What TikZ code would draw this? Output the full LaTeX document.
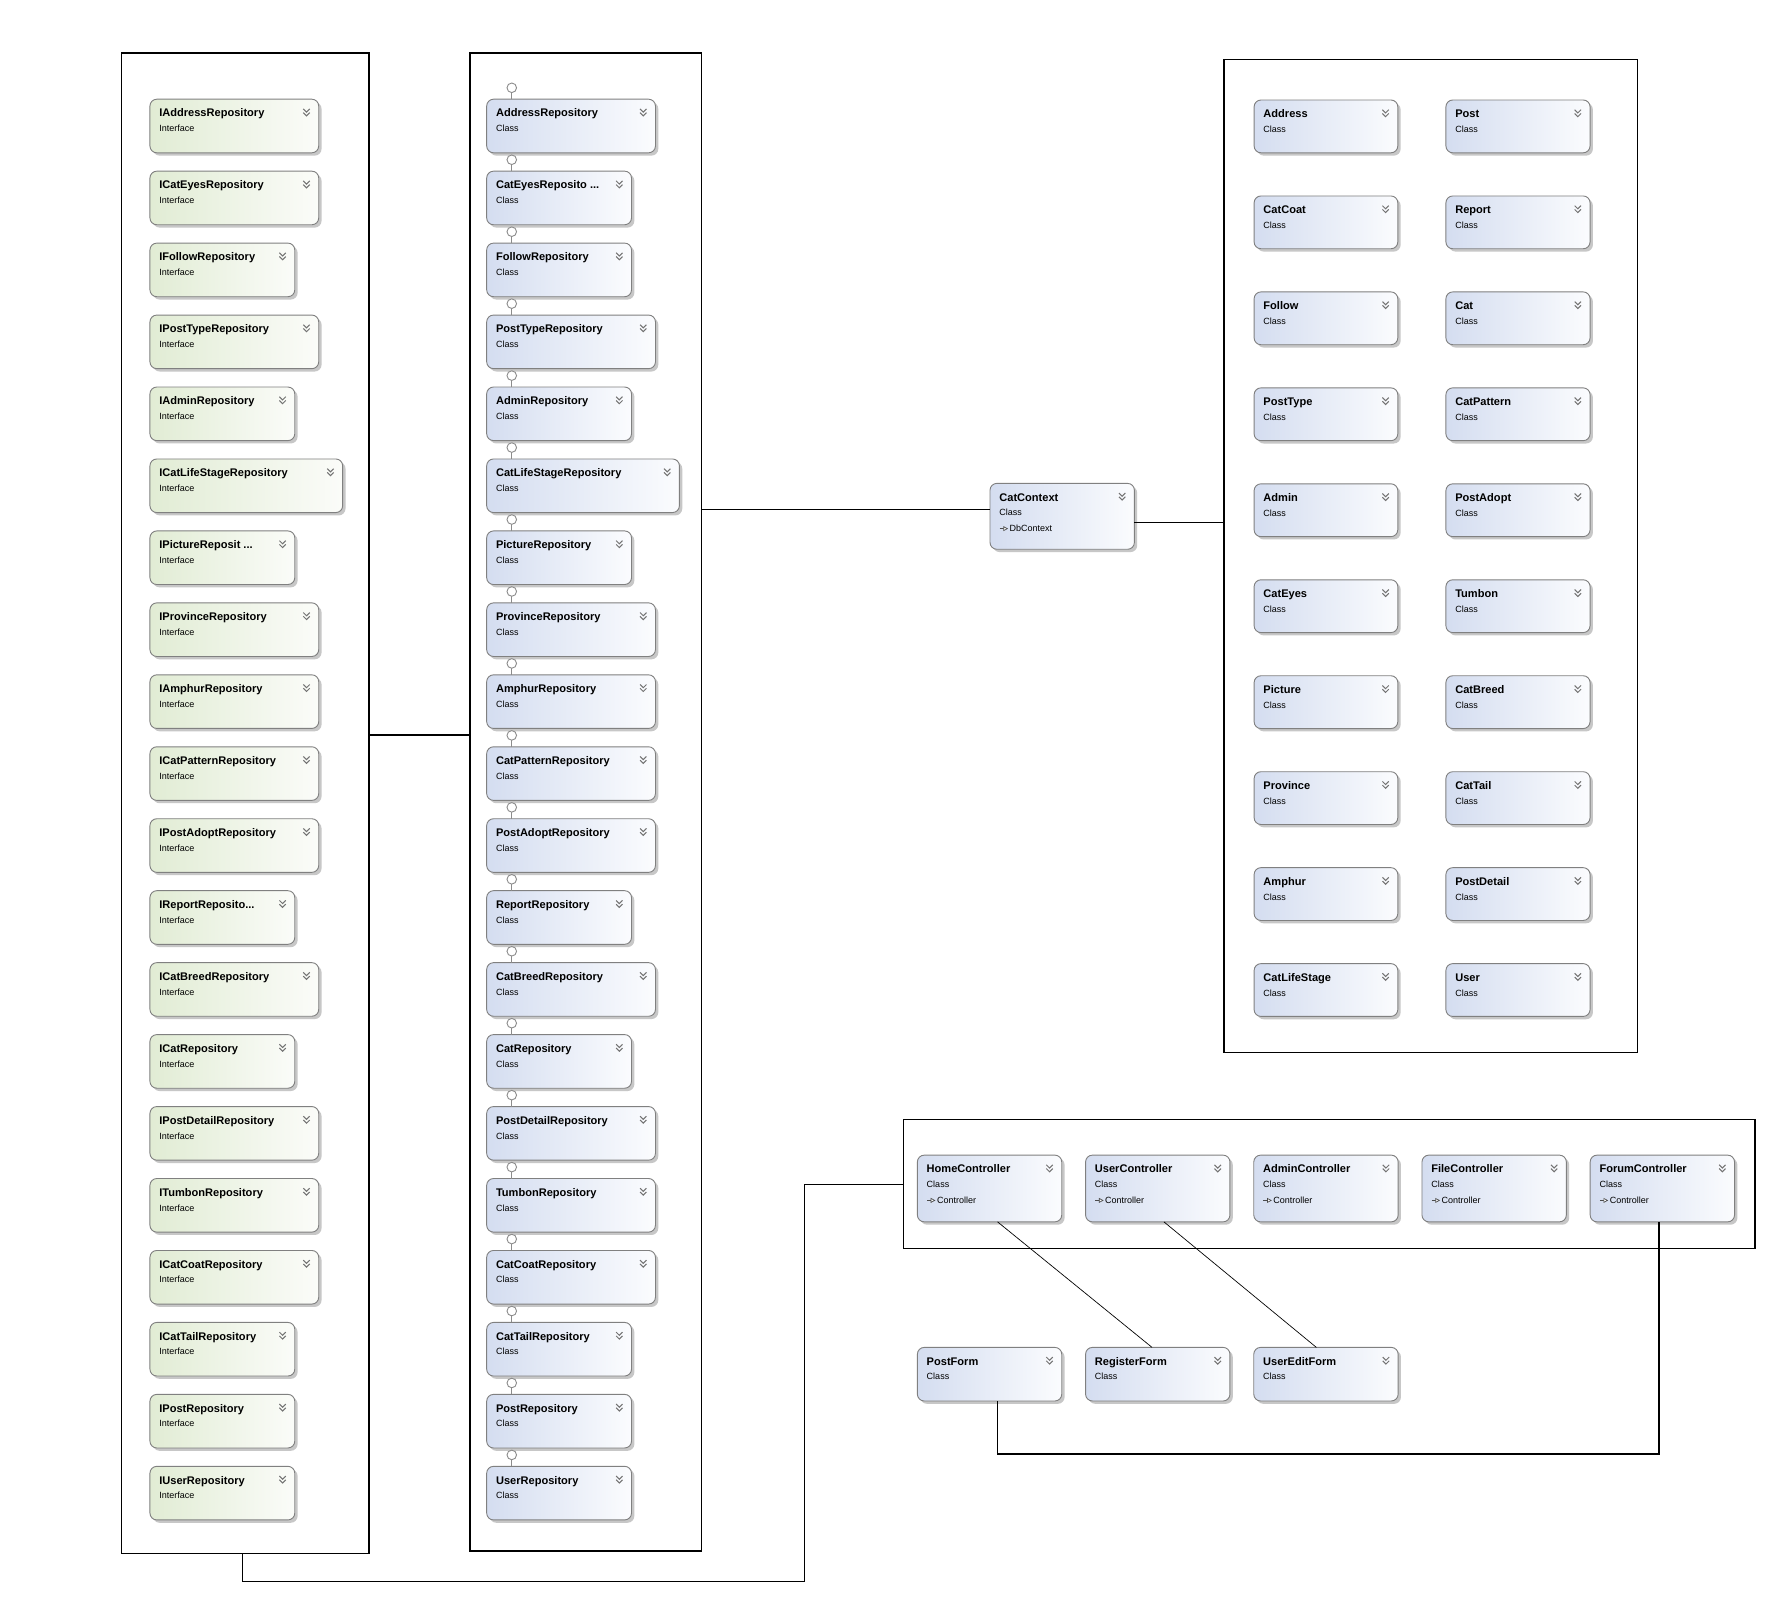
\documentclass[tikz,border=0pt]{standalone}
\usepackage{fontspec}
\setmainfont{Liberation Sans}
\definecolor{clsL}{RGB}{212,221,240}
\definecolor{clsR}{RGB}{251,252,254}
\definecolor{ifcL}{RGB}{225,236,212}
\definecolor{ifcR}{RGB}{251,252,249}
\definecolor{edge}{RGB}{128,128,128}
\tikzset{
  umlframe/.style={draw=edge, line width=0.8pt, rounded corners=6pt, inner sep=0pt, outer sep=0pt},
  cls/.style={left color=clsL, right color=clsR},
  ifc/.style={left color=ifcL, right color=ifcR},
  boxshadow/.style={fill=black!22, rounded corners=6pt},
  titletext/.style={anchor=base west, inner sep=0pt, font=\bfseries\fontsize{9.7}{10}\selectfont},
  kindtext/.style={anchor=base west, inner sep=0pt, font=\fontsize{7.9}{8}\selectfont},
  chev/.style={draw=black!55, line width=0.9pt},
  grp/.style={draw=black, line width=1.2pt, inner sep=0pt, outer sep=0pt},
  conn/.style={draw=black, line width=1.2pt},
  thinconn/.style={draw=black, line width=0.6pt},
  lolli/.style={draw=black!45, line width=0.8pt},
}
% truncation mark for long names
\newcommand\tdots{...}
% type box: name, x, y, width, height, fill style, title, kind
\newcommand\umlbox[8]{%
  \fill[boxshadow] (#2+2.5,#3+2.5) rectangle ++(#4,#5);
  \node[umlframe,#6,minimum width=#4,minimum height=#5,anchor=north west] (#1) at (#2,#3) {};
  \node[titletext] at ([shift={(8,15.5)}]#1.north west) {#7};
  \node[kindtext] at ([shift={(8,28.5)}]#1.north west) {#8};
  \draw[chev] ([shift={(-13.5,8.5)}]#1.north east) -- ++(2.8,2.8) -- ++(2.8,-2.8)
              ([shift={(-13.5,11.8)}]#1.north east) -- ++(2.8,2.8) -- ++(2.8,-2.8);
}
% base type line under the kind
\newcommand\basecls[2]{%
  \draw[black!70, line width=0.6pt] ([shift={(8.5,39.7)}]#1.north west) -- ++(4,0);
  \draw[black!70, line width=0.6pt, fill=white] ([shift={(12,38)}]#1.north west) -- ++(3.2,1.7) -- ++(-3.2,1.7) -- cycle;
  \node[kindtext] at ([shift={(17,42.5)}]#1.north west) {#2};
}
\begin{document}
\begin{tikzpicture}[x=1pt,y=-1pt]
\fill[white] (0,0) rectangle (1568,1420.7);
\useasboundingbox (0,0) rectangle (1568,1420.7);

% group frames
\node[grp, minimum width=217.2, minimum height=1315.7, anchor=north west] (g1) at (106.4,46.5) {};
\node[grp, minimum width=202.8, minimum height=1313.5, anchor=north west] (g2) at (412.2,46.5) {};
\node[grp, minimum width=362.6, minimum height=871, anchor=north west] (g3) at (1073.4,52) {};
\node[grp, minimum width=746.9, minimum height=113, anchor=north west] (g4) at (792.2,982) {};

% repository interfaces
\foreach \nm/\w/\txt [count=\i from 0] in {
  iAddress/148/IAddressRepository, iCatEyes/148/ICatEyesRepository,
  iFollow/127/IFollowRepository, iPostType/148/IPostTypeRepository,
  iAdmin/127/IAdminRepository, iCatLifeStage/169/ICatLifeStageRepository,
  iPicture/127/{IPictureReposit \tdots}, iProvince/148/IProvinceRepository,
  iAmphur/148/IAmphurRepository, iCatPattern/148/ICatPatternRepository,
  iPostAdopt/148/IPostAdoptRepository, iReport/127/{IReportReposito\tdots},
  iCatBreed/148/ICatBreedRepository, iCat/127/ICatRepository,
  iPostDetail/148/IPostDetailRepository, iTumbon/148/ITumbonRepository,
  iCatCoat/148/ICatCoatRepository, iCatTail/127/ICatTailRepository,
  iPost/127/IPostRepository, iUser/127/IUserRepository}
{
  \umlbox{\nm}{131.5}{87+63.1*\i}{\w}{47}{ifc}{\txt}{Interface}
}

% repository classes with their interface lollipops
\foreach \nm/\w/\txt [count=\i from 0] in {
  rAddress/148/AddressRepository, rCatEyes/127/{CatEyesReposito \tdots},
  rFollow/127/FollowRepository, rPostType/148/PostTypeRepository,
  rAdmin/127/AdminRepository, rCatLifeStage/169/CatLifeStageRepository,
  rPicture/127/PictureRepository, rProvince/148/ProvinceRepository,
  rAmphur/148/AmphurRepository, rCatPattern/148/CatPatternRepository,
  rPostAdopt/148/PostAdoptRepository, rReport/127/ReportRepository,
  rCatBreed/148/CatBreedRepository, rCat/127/CatRepository,
  rPostDetail/148/PostDetailRepository, rTumbon/148/TumbonRepository,
  rCatCoat/148/CatCoatRepository, rCatTail/127/CatTailRepository,
  rPost/127/PostRepository, rUser/127/UserRepository}
{
  \umlbox{\nm}{426.8}{87+63.1*\i}{\w}{47}{cls}{\txt}{Class}
  \draw[lolli] ([xshift=22]\nm.north west) -- ++(0,-5.8);
  \draw[lolli, fill=white] ([shift={(22,-10)}]\nm.north west) circle (4.2pt);
}

% db context
\umlbox{ctx}{868.2}{423.9}{126.6}{57.8}{cls}{CatContext}{Class}
\basecls{ctx}{DbContext}

% entity classes
\foreach \nm [count=\i from 0] in {Address,CatCoat,Follow,PostType,Admin,CatEyes,Picture,Province,Amphur,CatLifeStage}
{
  \umlbox{e\nm}{1099.8}{87.7+84.15*\i}{126}{46.3}{cls}{\nm}{Class}
}
\foreach \nm [count=\i from 0] in {Post,Report,Cat,CatPattern,PostAdopt,Tumbon,CatBreed,CatTail,PostDetail,User}
{
  \umlbox{e\nm}{1268}{87.7+84.15*\i}{126.4}{46.3}{cls}{\nm}{Class}
}

% controllers
\foreach \nm [count=\i from 0] in {Home,User,Admin,File,Forum}
{
  \umlbox{c\nm}{804.5+147.5*\i}{1013}{126.6}{58.5}{cls}{\nm Controller}{Class}
  \basecls{c\nm}{Controller}
}

% forms
\umlbox{fPost}{804.5}{1181.6}{126.6}{47}{cls}{PostForm}{Class}
\umlbox{fRegister}{952}{1181.6}{126.6}{47}{cls}{RegisterForm}{Class}
\umlbox{fUserEdit}{1099.5}{1181.6}{126.6}{47}{cls}{UserEditForm}{Class}

% connectors
\coordinate (yA) at (0,644.6);
\coordinate (yB) at (0,446.7);
\coordinate (yC) at (0,458.1);
\coordinate (bend) at (705.4,1386.8);
\coordinate (lowbar) at (1100,1275);
\draw[conn] (g1.east |- yA) -- (g2.west |- yA);
\draw[conn] (g2.east |- yB) -- (ctx.west |- yB);
\draw[conn] (ctx.east |- yC) -- (g3.west |- yC);
\draw[conn] ([xshift=-2.5]g1.south) |- (bend) |- (g4.west);
\draw[conn] ([xshift=-3]cForum.south) |- (lowbar) -| ([xshift=7]fPost.south);
\draw[thinconn] ([xshift=7]cHome.south) -- ([xshift=-5]fRegister.north);
\draw[thinconn] ([xshift=5.4]cUser.south) -- ([xshift=-8.4]fUserEdit.north);
\end{tikzpicture}
\end{document}
